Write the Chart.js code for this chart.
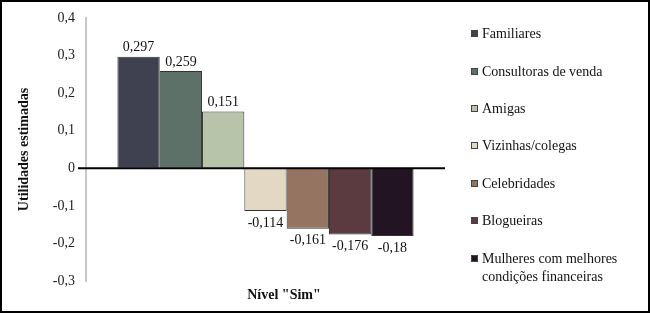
<!DOCTYPE html>
<html>
<head>
<meta charset="utf-8">
<script src="https://cdn.jsdelivr.net/npm/chart.js@4"></script>
<style>
    body { margin: 0; background: #fff; }
    #wrap { position: relative; width: 650px; height: 313px; font-family: "Liberation Serif", "Times New Roman", serif; }
    #frame { position: absolute; left: 0; top: 0; width: 650px; height: 313px; box-sizing: border-box; border: 2px solid #000; pointer-events: none; }
    #xTitle { position: absolute; left: 184px; width: 200px; top: 287px; text-align: center; font-weight: bold; font-size: 14px; color: #111; }
    #legend { position: absolute; left: 471px; top: 0; font-size: 14px; color: #111; }
    .item { position: absolute; left: 0; white-space: nowrap; line-height: 18px; }
    .box { position: absolute; left: 0; top: 5px; width: 7px; height: 7px; border: 1px solid #444; box-sizing: border-box; }
    .txt { position: absolute; left: 11px; top: 0; }
</style>
</head>
<body>
<div id="wrap">
    <canvas id="chart" width="650" height="313"></canvas>
    <div id="xTitle">Nível "Sim"</div>
    <div id="legend"></div>
    <div id="frame"></div>
</div>
<script>
// Dados do gráfico
const categories = ['Familiares', 'Consultoras de venda', 'Amigas', 'Vizinhas/colegas',
    'Celebridades', 'Blogueiras', 'Mulheres com melhores condições financeiras'];
const legendLines = [['Familiares'], ['Consultoras de venda'], ['Amigas'], ['Vizinhas/colegas'],
    ['Celebridades'], ['Blogueiras'], ['Mulheres com melhores', 'condições financeiras']];
const values = [0.297, 0.259, 0.151, -0.114, -0.161, -0.176, -0.18];
const valueLabels = ['0,297', '0,259', '0,151', '-0,114', '-0,161', '-0,176', '-0,18'];
const colors = ['#3f4150', '#5d7169', '#b8c4aa', '#e3d8c4', '#957462', '#5c3b40', '#231424'];
const yMin = -0.3, yMax = 0.4, yStep = 0.1;

const serif = '"Liberation Serif", "Times New Roman", serif';

// Rótulos de valores sobre / sob as barras
const valueLabelPlugin = {
    id: 'valueLabels',
    afterDatasetsDraw(chart) {
        const ctx = chart.ctx;
        ctx.save();
        ctx.font = '14px ' + serif;
        ctx.fillStyle = '#111';
        ctx.textAlign = 'center';
        ctx.textBaseline = 'middle';
        chart.data.datasets.forEach((ds, i) => {
            const bar = chart.getDatasetMeta(i).data[0];
            const v = ds.data[0];
            const y = v >= 0 ? bar.y - 9 : bar.y + 12;
            ctx.fillText(valueLabels[i], bar.x, y);
        });
        ctx.restore();
    }
};

// Linha do zero por cima das barras
const zeroLinePlugin = {
    id: 'zeroLine',
    afterDatasetsDraw(chart) {
        const ctx = chart.ctx;
        const y = chart.scales.y.getPixelForValue(0);
        ctx.save();
        ctx.strokeStyle = '#000';
        ctx.lineWidth = 2;
        ctx.beginPath();
        ctx.moveTo(chart.chartArea.left - 8, y);
        ctx.lineTo(chart.chartArea.right, y);
        ctx.stroke();
        ctx.restore();
    }
};

const datasets = categories.map((name, i) => ({
    label: name,
    data: [values[i]],
    backgroundColor: colors[i],
    borderColor: '#333',
    borderWidth: 1,
    categoryPercentage: 0.825,
    barPercentage: 1
}));

new Chart(document.getElementById('chart'), {
    type: 'bar',
    data: { labels: [''], datasets: datasets },
    options: {
        responsive: false,
        animation: false,
        layout: { padding: { top: 18, right: 205, bottom: 32, left: 0 } },
        plugins: { legend: { display: false }, tooltip: { enabled: false } },
        scales: {
            x: { display: false },
            y: {
                min: yMin,
                max: yMax,
                afterFit(scale) { scale.width = 86; },
                ticks: {
                    stepSize: yStep,
                    padding: 3,
                    color: '#222',
                    font: { family: serif, size: 14 },
                    callback: v => String(Math.round(v * 10) / 10).replace('.', ',')
                },
                grid: { drawOnChartArea: false, drawTicks: true, tickLength: 8, color: 'transparent' },
                border: { color: '#c8c8c8', width: 2 },
                title: {
                    display: true,
                    text: 'Utilidades estimadas',
                    color: '#111',
                    font: { family: serif, size: 14, weight: 'bold' },
                    padding: { top: 16, bottom: 0 }
                }
            }
        }
    },
    plugins: [zeroLinePlugin, valueLabelPlugin]
});

// Legenda em HTML (última entrada em duas linhas)
const legend = document.getElementById('legend');
const rowTops = [25, 62.5, 100, 137, 174.5, 212, 249.5];
legendLines.forEach((lines, i) => {
    const item = document.createElement('div');
    item.className = 'item';
    item.style.top = rowTops[i] + 'px';
    item.innerHTML = '<span class="box" style="background:' + colors[i] + '"></span>' +
        '<span class="txt">' + lines.join('<br>') + '</span>';
    legend.appendChild(item);
});
</script>
</body>
</html>
